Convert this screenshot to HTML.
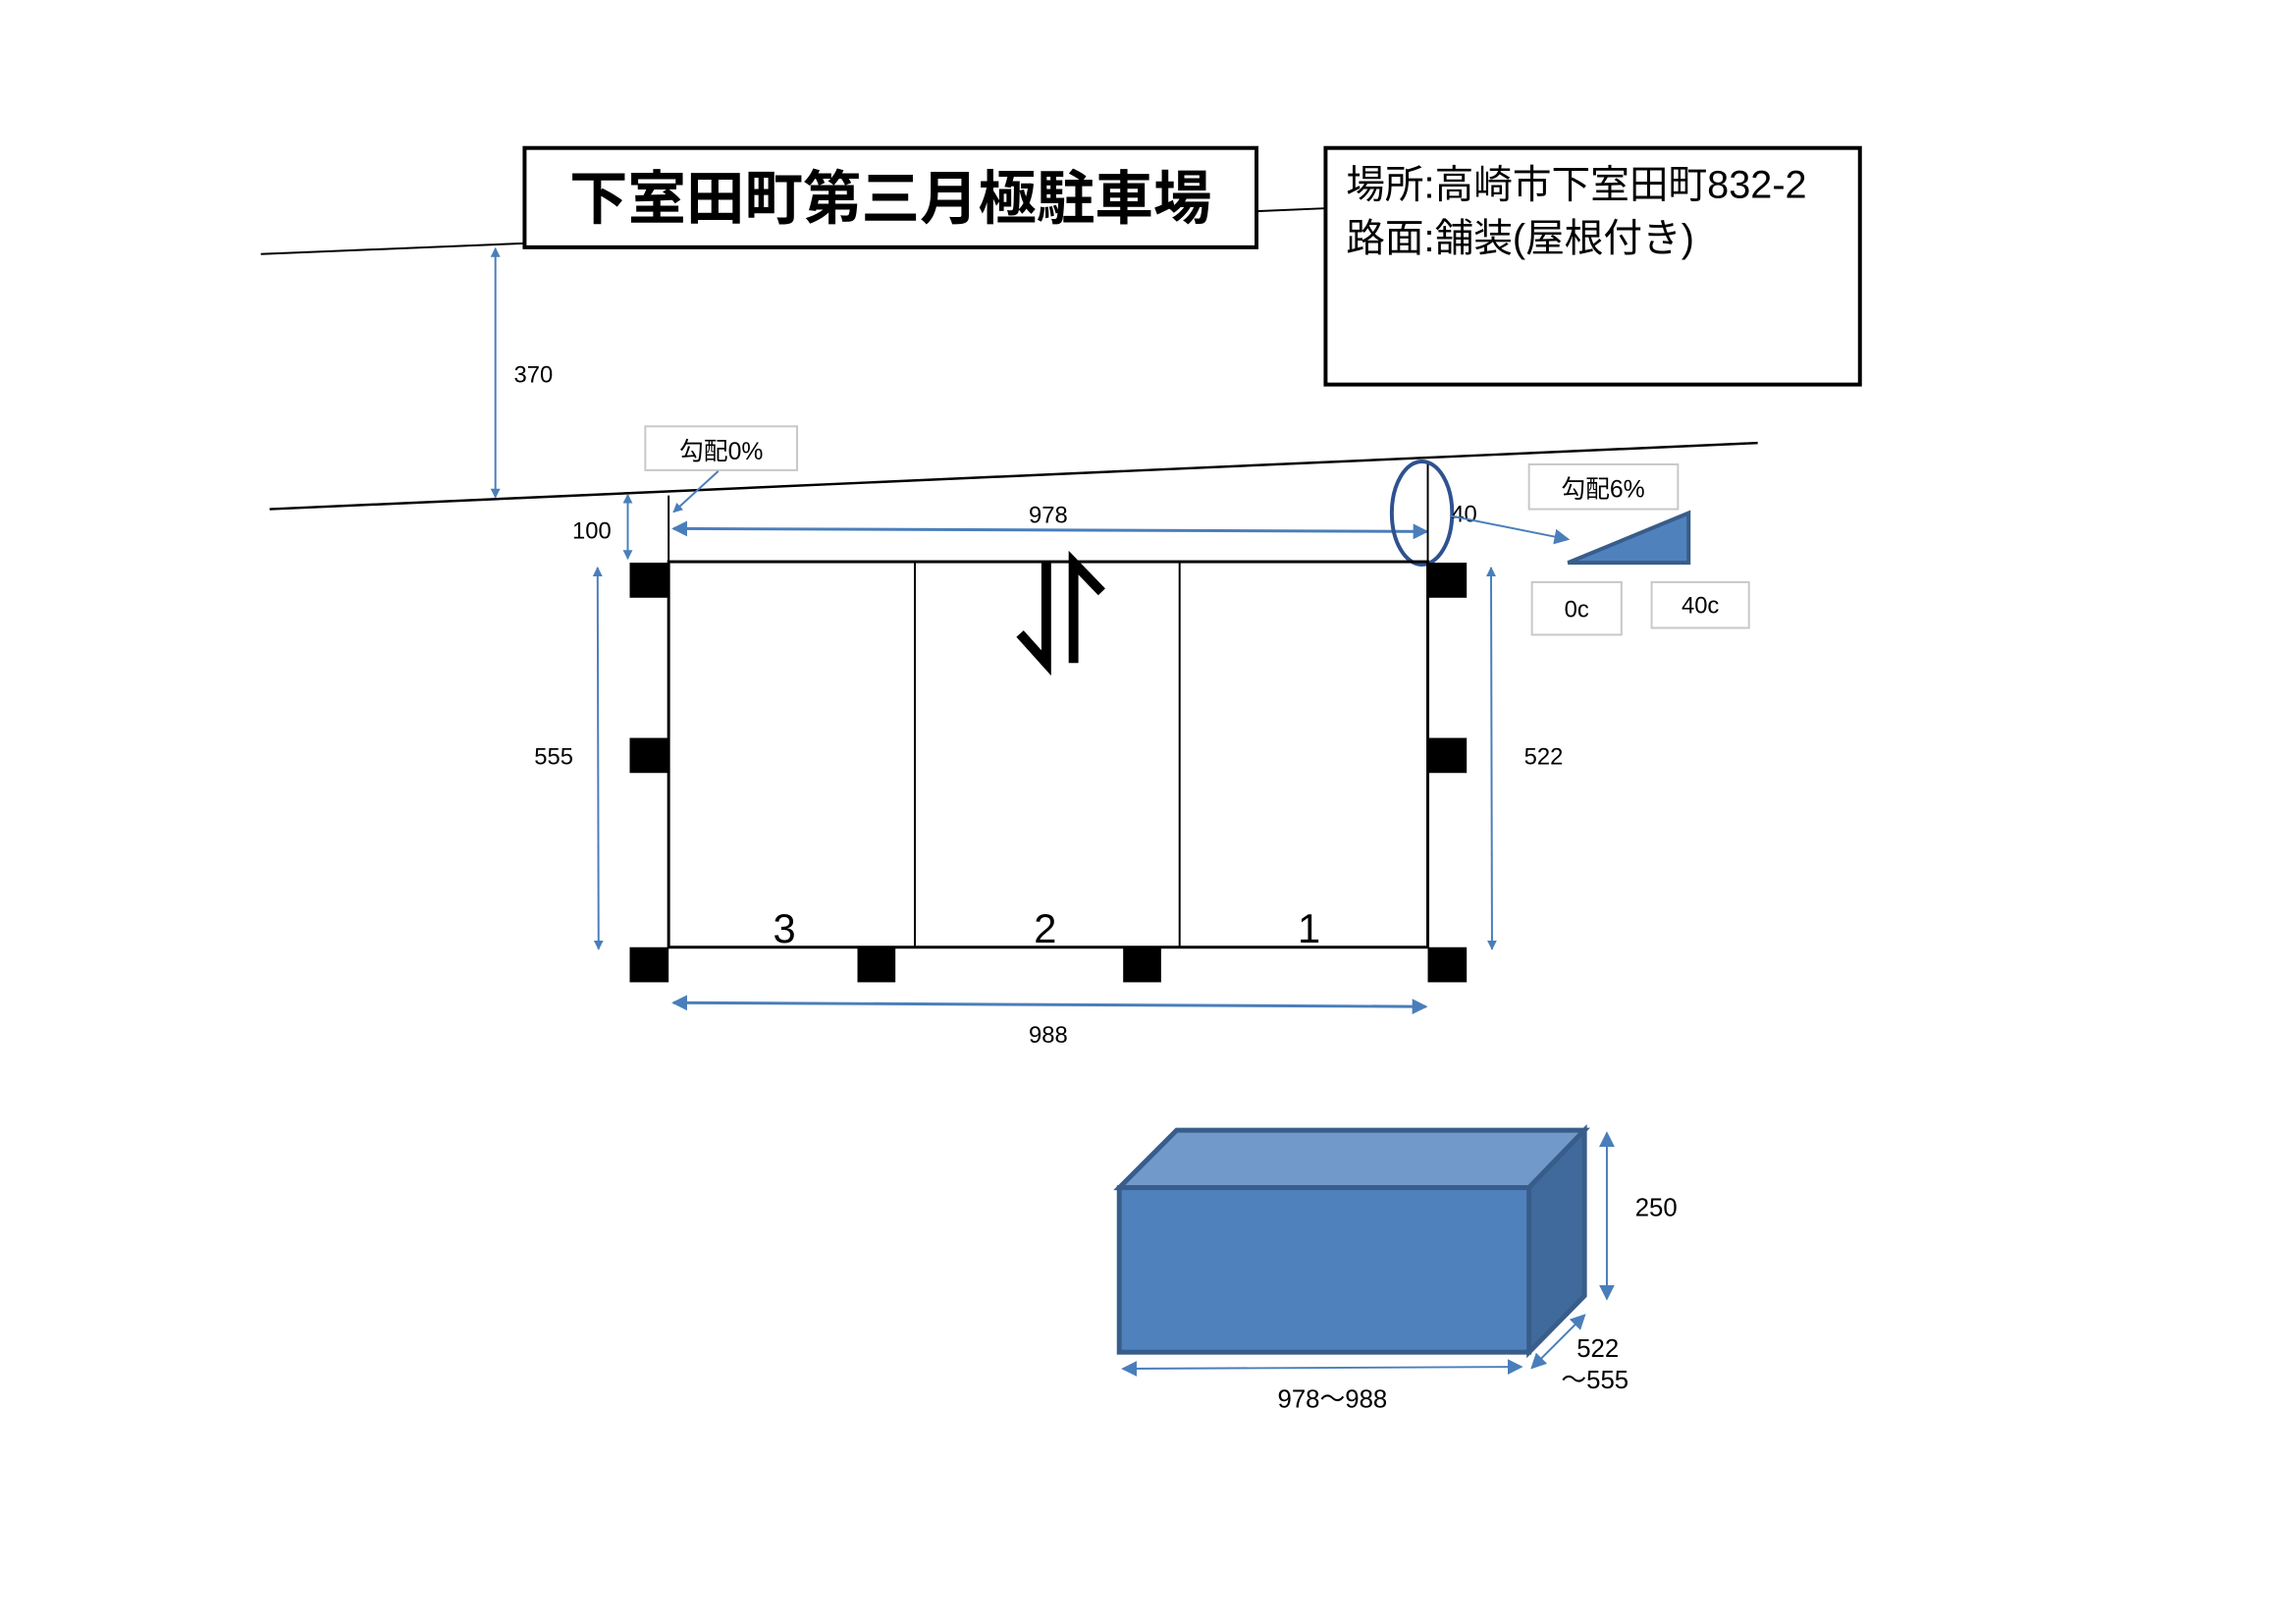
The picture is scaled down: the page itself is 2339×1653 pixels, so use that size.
<!DOCTYPE html>
<html><head><meta charset="utf-8"><style>
html,body{margin:0;padding:0;background:#fff}
svg{display:block}
text{font-family:"Liberation Sans","Noto Sans CJK JP",sans-serif}
</style></head><body>
<svg width="2339" height="1653" viewBox="0 0 2339 1653" xmlns="http://www.w3.org/2000/svg">
<defs>
<marker id="a" markerWidth="10" markerHeight="10" refX="9" refY="5" orient="auto-start-reverse" markerUnits="userSpaceOnUse">
<path d="M0,0 L10,5 L0,10 Z" fill="#4a7ebb"/></marker>
<marker id="b" markerWidth="16" markerHeight="16" refX="14" refY="8" orient="auto-start-reverse" markerUnits="userSpaceOnUse">
<path d="M0,0 L16,8 L0,16 Z" fill="#4a7ebb"/></marker>
</defs>
<g transform="scale(0.9915)">
<line x1="268" y1="261" x2="538" y2="250" stroke="#000" stroke-width="2"/>
<line x1="1291" y1="217" x2="1361" y2="214" stroke="#000" stroke-width="2"/>
<line x1="277" y1="523" x2="1806" y2="455" stroke="#000" stroke-width="2.5"/>
<rect x="539" y="152" width="752" height="102" fill="#fff" stroke="#000" stroke-width="4"/>
<text x="915" y="225" font-size="60" font-weight="bold" text-anchor="middle">下室田町第三月極駐車場</text>
<rect x="1362" y="152" width="549" height="243" fill="#fff" stroke="#000" stroke-width="4"/>
<text x="1383" y="203" font-size="40">場所:高崎市下室田町832-2</text>
<text x="1383" y="258" font-size="40">路面:舗装(屋根付き)</text>
<line x1="509" y1="255" x2="509" y2="511" stroke="#4a7ebb" stroke-width="2" marker-start="url(#a)" marker-end="url(#a)"/>
<text x="528" y="393" font-size="24">370</text>
<rect x="663" y="438" width="156" height="45" fill="#fff" stroke="#c8c8c8" stroke-width="2"/>
<text x="741" y="472" font-size="25" text-anchor="middle">勾配0%</text>
<line x1="738" y1="484" x2="692" y2="526" stroke="#4a7ebb" stroke-width="2" marker-end="url(#a)"/>
<line x1="687" y1="509" x2="687" y2="578" stroke="#000" stroke-width="2"/>
<line x1="645" y1="508" x2="645" y2="574" stroke="#4a7ebb" stroke-width="2" marker-start="url(#a)" marker-end="url(#a)"/>
<text x="588" y="553" font-size="24">100</text>
<line x1="692" y1="543" x2="1466" y2="546" stroke="#4a7ebb" stroke-width="3" marker-start="url(#b)" marker-end="url(#b)"/>
<text x="1077" y="537" font-size="24" text-anchor="middle">978</text>
<line x1="1467" y1="474" x2="1467" y2="578" stroke="#000" stroke-width="2"/>
<ellipse cx="1461" cy="527" rx="31" ry="53" fill="none" stroke="#2f528f" stroke-width="4"/>
<text x="1491" y="536" font-size="24">40</text>
<line x1="1491" y1="530" x2="1611" y2="554" stroke="#4a7ebb" stroke-width="2" marker-end="url(#b)"/>
<rect x="1571" y="477" width="153" height="46" fill="#fff" stroke="#c8c8c8" stroke-width="2"/>
<text x="1647" y="511" font-size="25" text-anchor="middle">勾配6%</text>
<polygon points="1611,578 1735,527 1735,578" fill="#4f81bd" stroke="#385d8a" stroke-width="4"/>
<rect x="1574" y="598" width="92" height="54" fill="#fff" stroke="#c8c8c8" stroke-width="2"/>
<text x="1620" y="634" font-size="24" text-anchor="middle">0c</text>
<rect x="1697" y="598" width="100" height="47" fill="#fff" stroke="#c8c8c8" stroke-width="2"/>
<text x="1747" y="630" font-size="24" text-anchor="middle">40c</text>
<rect x="687" y="577" width="780" height="396" fill="none" stroke="#000" stroke-width="3"/>
<line x1="940" y1="577" x2="940" y2="973" stroke="#000" stroke-width="2"/>
<line x1="1212" y1="577" x2="1212" y2="973" stroke="#000" stroke-width="2"/>
<path d="M1075,578 L1075,681 L1048,651" fill="none" stroke="#000" stroke-width="10"/>
<path d="M1103,681 L1103,578 L1132,608" fill="none" stroke="#000" stroke-width="10"/>
<text x="806" y="968" font-size="42" text-anchor="middle">3</text>
<text x="1074" y="968" font-size="42" text-anchor="middle">2</text>
<text x="1345" y="968" font-size="42" text-anchor="middle">1</text>
<g fill="#000">
<rect x="647" y="578" width="40" height="36"/>
<rect x="647" y="758" width="40" height="36"/>
<rect x="647" y="973" width="40" height="36"/>
<rect x="1467" y="578" width="40" height="36"/>
<rect x="1467" y="758" width="40" height="36"/>
<rect x="1467" y="973" width="40" height="36"/>
<rect x="881" y="973" width="39" height="36"/>
<rect x="1154" y="973" width="39" height="36"/>
</g>
<line x1="614" y1="583" x2="615" y2="975" stroke="#4a7ebb" stroke-width="2" marker-start="url(#a)" marker-end="url(#a)"/>
<text x="569" y="785" font-size="24" text-anchor="middle">555</text>
<line x1="1532" y1="583" x2="1533" y2="975" stroke="#4a7ebb" stroke-width="2" marker-start="url(#a)" marker-end="url(#a)"/>
<text x="1586" y="785" font-size="24" text-anchor="middle">522</text>
<line x1="692" y1="1030" x2="1465" y2="1034" stroke="#4a7ebb" stroke-width="3" marker-start="url(#b)" marker-end="url(#b)"/>
<text x="1077" y="1071" font-size="24" text-anchor="middle">988</text>
<polygon points="1150,1220 1209,1161 1628,1161 1571,1220" fill="#7199c9" stroke="#385d8a" stroke-width="5"/>
<polygon points="1571,1220 1628,1161 1628,1331 1571,1389" fill="#416a9c" stroke="#385d8a" stroke-width="5"/>
<rect x="1150" y="1220" width="421" height="169" fill="#4f81bd" stroke="#385d8a" stroke-width="5"/>
<line x1="1651" y1="1164" x2="1651" y2="1334" stroke="#4a7ebb" stroke-width="2" marker-start="url(#b)" marker-end="url(#b)"/>
<text x="1680" y="1249" font-size="26">250</text>
<line x1="1154" y1="1406" x2="1563" y2="1404" stroke="#4a7ebb" stroke-width="2" marker-start="url(#b)" marker-end="url(#b)"/>
<text x="1369" y="1446" font-size="26" text-anchor="middle">978～988</text>
<line x1="1574" y1="1405" x2="1628" y2="1351" stroke="#4a7ebb" stroke-width="2" marker-start="url(#b)" marker-end="url(#b)"/>
<text x="1620" y="1394" font-size="26">522</text>
<text x="1604" y="1426" font-size="26">～555</text>
</g>
</svg>
</body></html>
